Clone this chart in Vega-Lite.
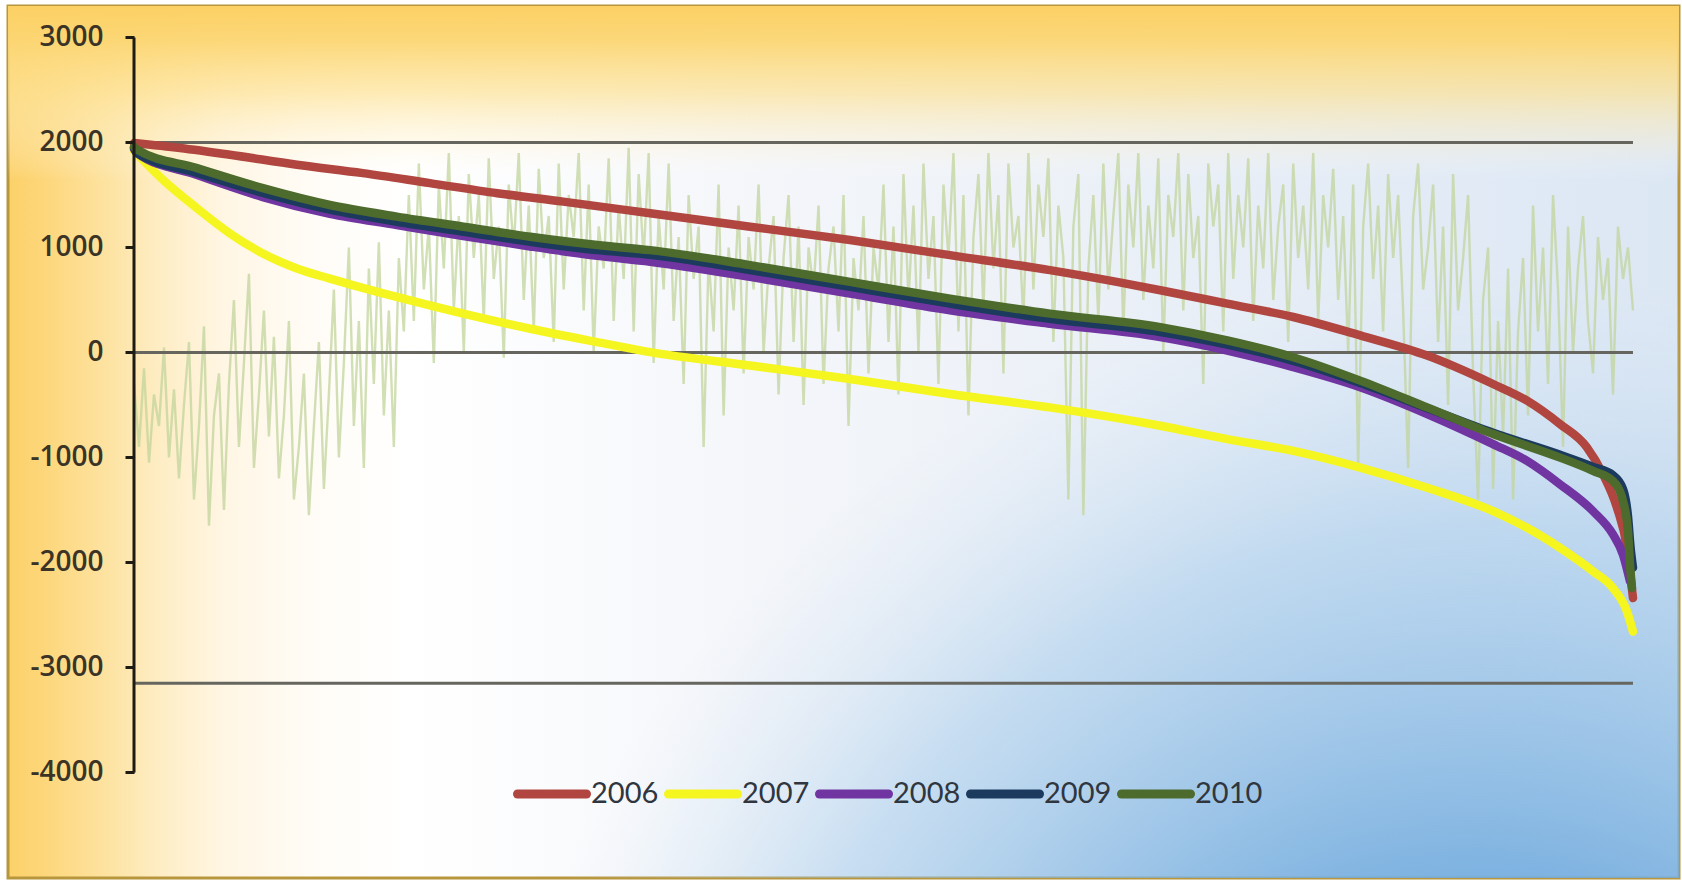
{
  "$schema": "https://vega.github.io/schema/vega-lite/v6.json",
  "width": 1671,
  "height": 872,
  "autosize": {"type": "none"},
  "padding": {"left": 8, "top": 6, "right": 3, "bottom": 3},
  "background": "#ffffff",
  "config": {
    "locale": {"number": {"decimal": ".", "thousands": ",", "grouping": [3], "currency": ["$", ""], "minus": "-"}},
    "view": {
      "stroke": "#b8963c",
      "strokeWidth": 3,
      "fill": {
        "gradient": "linear", "x1": 0, "y1": 0, "x2": 1, "y2": 0,
        "stops": [
          {"offset": 0, "color": "#fcd169"},
          {"offset": 0.02, "color": "#fdd679"},
          {"offset": 0.06, "color": "#fde3a2"},
          {"offset": 0.09, "color": "#feedc4"},
          {"offset": 0.13, "color": "#fff6e4"},
          {"offset": 0.18, "color": "#fffcf6"},
          {"offset": 0.24, "color": "#ffffff"},
          {"offset": 0.45, "color": "#f4f6fa"},
          {"offset": 0.6, "color": "#eef2f8"},
          {"offset": 0.8, "color": "#e4ecf6"},
          {"offset": 1, "color": "#dce7f4"}
        ]
      }
    },
    "axisY": {
      "offset": -126,
      "domain": false,
      "grid": false,
      "tickSize": 9,
      "tickWidth": 3,
      "tickColor": "#1e1a14",
      "labelFont": "Open Sans",
      "labelFontSize": 28,
      "labelFontWeight": 600,
      "labelColor": "#3b3426",
      "labelPadding": 22,
      "labelFlush": false,
      "labelOverlap": false
    },
    "legend": {
      "symbolType": "stroke",
      "symbolStrokeWidth": 9,
      "symbolSize": 4761,
      "labelFont": "Lato",
      "labelFontSize": 29,
      "labelColor": "#2f3640",
      "labelOffset": 0,
      "columnPadding": -9,
      "padding": 0
    }
  },
  "layer": [
    {
      "data": {"values": [{}]},
      "mark": {
        "type": "rect",
        "fill": {
          "gradient": "radial", "x1": 0.88, "y1": 1.0, "r1": 0, "x2": 0.88, "y2": 1.0, "r2": 0.6,
          "stops": [
            {"offset": 0, "color": "rgba(100,165,220,1)"},
            {"offset": 0.4, "color": "rgba(115,172,222,0.9)"},
            {"offset": 0.75, "color": "rgba(150,195,232,0.45)"},
            {"offset": 1, "color": "rgba(200,220,240,0)"}
          ]
        }
      }
    },
    {
      "data": {"values": [{}]},
      "mark": {
        "type": "rect",
        "fill": {
          "gradient": "linear", "x1": 0, "y1": 0, "x2": 0, "y2": 1,
          "stops": [
            {"offset": 0, "color": "rgba(252,208,100,1)"},
            {"offset": 0.04, "color": "rgba(252,214,115,0.95)"},
            {"offset": 0.1, "color": "rgba(253,226,150,0.7)"},
            {"offset": 0.16, "color": "rgba(254,240,200,0.3)"},
            {"offset": 0.2, "color": "rgba(255,255,255,0)"},
            {"offset": 1, "color": "rgba(255,255,255,0)"}
          ]
        }
      }
    },
    {
      "data": {"values": [
        {"x":0,"y":-300},{"x":1,"y":-900},{"x":2,"y":-150},{"x":3,"y":-1050},{"x":4,"y":-400},{"x":5,"y":-700},{"x":6,"y":50},{"x":7,"y":-1000},{"x":8,"y":-350},{"x":9,"y":-1200},
        {"x":10,"y":-500},{"x":11,"y":100},{"x":12,"y":-1400},{"x":13,"y":-700},{"x":14,"y":250},{"x":15,"y":-1650},{"x":16,"y":-600},{"x":17,"y":-200},{"x":18,"y":-1500},{"x":19,"y":-300},
        {"x":20,"y":500},{"x":21,"y":-900},{"x":22,"y":-100},{"x":23,"y":750},{"x":24,"y":-1100},{"x":25,"y":-400},{"x":26,"y":400},{"x":27,"y":-800},{"x":28,"y":150},{"x":29,"y":-1200},
        {"x":30,"y":-600},{"x":31,"y":300},{"x":32,"y":-1400},{"x":33,"y":-900},{"x":34,"y":-200},{"x":35,"y":-1550},{"x":36,"y":-700},{"x":37,"y":100},{"x":38,"y":-1300},{"x":39,"y":-400},
        {"x":40,"y":600},{"x":41,"y":-1000},{"x":42,"y":-100},{"x":43,"y":1000},{"x":44,"y":-700},{"x":45,"y":300},{"x":46,"y":-1100},{"x":47,"y":800},{"x":48,"y":-300},{"x":49,"y":1050},
        {"x":50,"y":-600},{"x":51,"y":400},{"x":52,"y":-900},{"x":53,"y":900},{"x":54,"y":200},{"x":55,"y":1500},{"x":56,"y":300},{"x":57,"y":1800},{"x":58,"y":600},{"x":59,"y":1200},
        {"x":60,"y":-100},{"x":61,"y":1600},{"x":62,"y":800},{"x":63,"y":1900},{"x":64,"y":400},{"x":65,"y":1300},{"x":66,"y":0},{"x":67,"y":1700},{"x":68,"y":900},{"x":69,"y":1500},
        {"x":70,"y":300},{"x":71,"y":1850},{"x":72,"y":700},{"x":73,"y":1200},{"x":74,"y":-50},{"x":75,"y":1600},{"x":76,"y":1000},{"x":77,"y":1900},{"x":78,"y":500},{"x":79,"y":1400},
        {"x":80,"y":200},{"x":81,"y":1750},{"x":82,"y":900},{"x":83,"y":1300},{"x":84,"y":100},{"x":85,"y":1800},{"x":86,"y":600},{"x":87,"y":1500},{"x":88,"y":1100},{"x":89,"y":1900},
        {"x":90,"y":400},{"x":91,"y":1600},{"x":92,"y":0},{"x":93,"y":1200},{"x":94,"y":800},{"x":95,"y":1850},{"x":96,"y":300},{"x":97,"y":1400},{"x":98,"y":700},{"x":99,"y":1950},
        {"x":100,"y":200},{"x":101,"y":1700},{"x":102,"y":900},{"x":103,"y":1900},{"x":104,"y":-100},{"x":105,"y":1300},{"x":106,"y":600},{"x":107,"y":1800},{"x":108,"y":300},{"x":109,"y":1100},
        {"x":110,"y":-300},{"x":111,"y":1500},{"x":112,"y":700},{"x":113,"y":1200},{"x":114,"y":-900},{"x":115,"y":900},{"x":116,"y":200},{"x":117,"y":1600},{"x":118,"y":-600},{"x":119,"y":1000},
        {"x":120,"y":400},{"x":121,"y":1400},{"x":122,"y":-200},{"x":123,"y":1100},{"x":124,"y":600},{"x":125,"y":1600},{"x":126,"y":0},{"x":127,"y":800},{"x":128,"y":1300},{"x":129,"y":-400},
        {"x":130,"y":900},{"x":131,"y":1500},{"x":132,"y":100},{"x":133,"y":1200},{"x":134,"y":-500},{"x":135,"y":1000},{"x":136,"y":600},{"x":137,"y":1400},{"x":138,"y":-300},{"x":139,"y":800},
        {"x":140,"y":1200},{"x":141,"y":200},{"x":142,"y":1500},{"x":143,"y":-700},{"x":144,"y":900},{"x":145,"y":400},{"x":146,"y":1300},{"x":147,"y":-200},{"x":148,"y":1000},{"x":149,"y":600},
        {"x":150,"y":1600},{"x":151,"y":100},{"x":152,"y":1200},{"x":153,"y":-400},{"x":154,"y":1700},{"x":155,"y":500},{"x":156,"y":1400},{"x":157,"y":0},{"x":158,"y":1800},{"x":159,"y":700},
        {"x":160,"y":1300},{"x":161,"y":-300},{"x":162,"y":1600},{"x":163,"y":900},{"x":164,"y":1900},{"x":165,"y":200},{"x":166,"y":1500},{"x":167,"y":-600},{"x":168,"y":1100},{"x":169,"y":1700},
        {"x":170,"y":400},{"x":171,"y":1900},{"x":172,"y":800},{"x":173,"y":1500},{"x":174,"y":-200},{"x":175,"y":1800},{"x":176,"y":1000},{"x":177,"y":1300},{"x":178,"y":300},{"x":179,"y":1900},
        {"x":180,"y":600},{"x":181,"y":1600},{"x":182,"y":1100},{"x":183,"y":1850},{"x":184,"y":100},{"x":185,"y":1400},{"x":186,"y":900},{"x":187,"y":-1400},{"x":188,"y":1200},{"x":189,"y":1700},
        {"x":190,"y":-1550},{"x":191,"y":800},{"x":192,"y":1500},{"x":193,"y":300},{"x":194,"y":1800},{"x":195,"y":600},{"x":196,"y":1300},{"x":197,"y":1900},{"x":198,"y":200},{"x":199,"y":1600},
        {"x":200,"y":1000},{"x":201,"y":1900},{"x":202,"y":500},{"x":203,"y":1400},{"x":204,"y":800},{"x":205,"y":1850},{"x":206,"y":0},{"x":207,"y":1500},{"x":208,"y":1100},{"x":209,"y":1900},
        {"x":210,"y":400},{"x":211,"y":1700},{"x":212,"y":900},{"x":213,"y":1300},{"x":214,"y":-300},{"x":215,"y":1800},{"x":216,"y":1200},{"x":217,"y":1600},{"x":218,"y":200},{"x":219,"y":1900},
        {"x":220,"y":700},{"x":221,"y":1500},{"x":222,"y":1000},{"x":223,"y":1850},{"x":224,"y":300},{"x":225,"y":1400},{"x":226,"y":800},{"x":227,"y":1900},{"x":228,"y":500},{"x":229,"y":1200},
        {"x":230,"y":1600},{"x":231,"y":100},{"x":232,"y":1800},{"x":233,"y":900},{"x":234,"y":1400},{"x":235,"y":600},{"x":236,"y":1900},{"x":237,"y":300},{"x":238,"y":1500},{"x":239,"y":1000},
        {"x":240,"y":1750},{"x":241,"y":500},{"x":242,"y":1300},{"x":243,"y":0},{"x":244,"y":1600},{"x":245,"y":-1100},{"x":246,"y":1200},{"x":247,"y":1800},{"x":248,"y":700},{"x":249,"y":1400},
        {"x":250,"y":200},{"x":251,"y":1700},{"x":252,"y":900},{"x":253,"y":1500},{"x":254,"y":400},{"x":255,"y":-1100},{"x":256,"y":1300},{"x":257,"y":1800},{"x":258,"y":600},{"x":259,"y":1000},
        {"x":260,"y":1600},{"x":261,"y":100},{"x":262,"y":1200},{"x":263,"y":-500},{"x":264,"y":1700},{"x":265,"y":400},{"x":266,"y":900},{"x":267,"y":1500},{"x":268,"y":-200},{"x":269,"y":-1400},
        {"x":270,"y":500},{"x":271,"y":1000},{"x":272,"y":-1300},{"x":273,"y":300},{"x":274,"y":-800},{"x":275,"y":800},{"x":276,"y":-1400},{"x":277,"y":200},{"x":278,"y":900},{"x":279,"y":-600},
        {"x":280,"y":1400},{"x":281,"y":200},{"x":282,"y":1000},{"x":283,"y":-300},{"x":284,"y":1500},{"x":285,"y":600},{"x":286,"y":-900},{"x":287,"y":1200},{"x":288,"y":0},{"x":289,"y":800},
        {"x":290,"y":1300},{"x":291,"y":300},{"x":292,"y":-200},{"x":293,"y":1100},{"x":294,"y":500},{"x":295,"y":900},{"x":296,"y":-400},{"x":297,"y":1200},{"x":298,"y":700},{"x":299,"y":1000},
        {"x":300,"y":400}
      ]},
      "mark": {"type": "line", "stroke": "#c2d49c", "strokeWidth": 2.4, "opacity": 0.75},
      "encoding": {
        "x": {"field": "x", "type": "quantitative", "scale": {"domain": [-25.22, 309.21], "nice": false, "zero": false}, "axis": null},
        "y": {
          "field": "y", "type": "quantitative", "title": null,
          "scale": {"domain": [-5005, 3300], "nice": false, "zero": false},
          "axis": {"values": [3000, 2000, 1000, 0, -1000, -2000, -3000, -4000], "format": "d", "title": null, "zindex": 1}
        }
      }
    },
    {
      "data": {"values": [
        {"x": 0, "x2": 300, "y": 2000},
        {"x": 0, "x2": 300, "y": 0},
        {"x": 0, "x2": 300, "y": -3150}
      ]},
      "mark": {"type": "rule", "stroke": "#66665f", "strokeWidth": 3},
      "encoding": {
        "x": {"field": "x", "type": "quantitative", "axis": null},
        "x2": {"field": "x2"},
        "y": {
          "field": "y", "type": "quantitative", "title": null,
          "axis": {"values": [3000, 2000, 1000, 0, -1000, -2000, -3000, -4000], "format": "d", "title": null, "zindex": 1}
        }
      }
    },
    {
      "data": {"values": [
        {"year":"2006","x":0,"y":1995},{"year":"2006","x":9.2,"y":1947},{"year":"2006","x":19.2,"y":1883},{"year":"2006","x":32.6,"y":1788},{"year":"2006","x":45.8,"y":1708},{"year":"2006","x":59.2,"y":1613},{"year":"2006","x":72.7,"y":1517},{"year":"2006","x":85.9,"y":1437},{"year":"2006","x":103.3,"y":1326},{"year":"2006","x":123.3,"y":1198},{"year":"2006","x":143.3,"y":1071},{"year":"2006","x":163.3,"y":927},{"year":"2006","x":183.3,"y":784},{"year":"2006","x":196.7,"y":672},{"year":"2006","x":205.4,"y":593},{"year":"2006","x":218.8,"y":465},{"year":"2006","x":232,"y":338},{"year":"2006","x":245.4,"y":163},{"year":"2006","x":258.8,"y":-29},{"year":"2006","x":272,"y":-300},{"year":"2006","x":278.8,"y":-459},{"year":"2006","x":285.4,"y":-682},{"year":"2006","x":290.8,"y":-905},{"year":"2006","x":294,"y":-1160},{"year":"2006","x":296.8,"y":-1479},{"year":"2006","x":298.8,"y":-1861},{"year":"2006","x":300,"y":-2339},
        {"year":"2007","x":0,"y":1920},{"year":"2007","x":5.8,"y":1644},{"year":"2007","x":12.6,"y":1374},{"year":"2007","x":19.2,"y":1134},{"year":"2007","x":25.8,"y":943},{"year":"2007","x":32.6,"y":800},{"year":"2007","x":39.2,"y":704},{"year":"2007","x":52.6,"y":529},{"year":"2007","x":65.9,"y":370},{"year":"2007","x":79.3,"y":226},{"year":"2007","x":92.7,"y":99},{"year":"2007","x":103.3,"y":3},{"year":"2007","x":123.3,"y":-124},{"year":"2007","x":143.3,"y":-252},{"year":"2007","x":163.3,"y":-395},{"year":"2007","x":183.3,"y":-523},{"year":"2007","x":205.4,"y":-698},{"year":"2007","x":218.8,"y":-825},{"year":"2007","x":232,"y":-937},{"year":"2007","x":245.4,"y":-1096},{"year":"2007","x":258.8,"y":-1288},{"year":"2007","x":272,"y":-1511},{"year":"2007","x":278.8,"y":-1670},{"year":"2007","x":285.4,"y":-1861},{"year":"2007","x":292,"y":-2084},{"year":"2007","x":296,"y":-2244},{"year":"2007","x":298.8,"y":-2467},{"year":"2007","x":300,"y":-2658},
        {"year":"2008","x":0,"y":1940},{"year":"2008","x":0.6,"y":1900},{"year":"2008","x":12.6,"y":1690},{"year":"2008","x":25.8,"y":1480},{"year":"2008","x":39.2,"y":1320},{"year":"2008","x":52.6,"y":1214},{"year":"2008","x":65.9,"y":1110},{"year":"2008","x":79.3,"y":1010},{"year":"2008","x":92.7,"y":920},{"year":"2008","x":103.3,"y":864},{"year":"2008","x":123.3,"y":720},{"year":"2008","x":143.3,"y":561},{"year":"2008","x":163.3,"y":402},{"year":"2008","x":183.3,"y":274},{"year":"2008","x":205.4,"y":147},{"year":"2008","x":218.8,"y":19},{"year":"2008","x":232,"y":-140},{"year":"2008","x":245.4,"y":-331},{"year":"2008","x":258.8,"y":-586},{"year":"2008","x":272,"y":-873},{"year":"2008","x":278.8,"y":-1033},{"year":"2008","x":285.4,"y":-1255},{"year":"2008","x":292,"y":-1511},{"year":"2008","x":296,"y":-1733},{"year":"2008","x":298,"y":-1925},{"year":"2008","x":299.4,"y":-2180},
        {"year":"2009","x":0,"y":1950},{"year":"2009","x":0.6,"y":1900},{"year":"2009","x":12.6,"y":1710},{"year":"2009","x":25.8,"y":1520},{"year":"2009","x":39.2,"y":1360},{"year":"2009","x":52.6,"y":1245},{"year":"2009","x":65.9,"y":1150},{"year":"2009","x":79.3,"y":1055},{"year":"2009","x":92.7,"y":975},{"year":"2009","x":103.3,"y":930},{"year":"2009","x":123.3,"y":785},{"year":"2009","x":143.3,"y":625},{"year":"2009","x":163.3,"y":465},{"year":"2009","x":183.3,"y":320},{"year":"2009","x":205.4,"y":195},{"year":"2009","x":218.8,"y":75},{"year":"2009","x":232,"y":-80},{"year":"2009","x":245.4,"y":-290},{"year":"2009","x":258.8,"y":-530},{"year":"2009","x":272,"y":-765},{"year":"2009","x":285.4,"y":-975},{"year":"2009","x":292,"y":-1090},{"year":"2009","x":296,"y":-1170},{"year":"2009","x":298,"y":-1300},{"year":"2009","x":299,"y":-1560},{"year":"2009","x":299.5,"y":-1850},{"year":"2009","x":300,"y":-2050},
        {"year":"2010","x":0,"y":1960},{"year":"2010","x":0.6,"y":1931},{"year":"2010","x":12.6,"y":1756},{"year":"2010","x":25.8,"y":1565},{"year":"2010","x":39.2,"y":1405},{"year":"2010","x":52.6,"y":1294},{"year":"2010","x":65.9,"y":1198},{"year":"2010","x":79.3,"y":1102},{"year":"2010","x":92.7,"y":1023},{"year":"2010","x":103.3,"y":975},{"year":"2010","x":123.3,"y":832},{"year":"2010","x":143.3,"y":672},{"year":"2010","x":163.3,"y":513},{"year":"2010","x":183.3,"y":370},{"year":"2010","x":205.4,"y":242},{"year":"2010","x":218.8,"y":115},{"year":"2010","x":232,"y":-45},{"year":"2010","x":245.4,"y":-268},{"year":"2010","x":258.8,"y":-523},{"year":"2010","x":272,"y":-777},{"year":"2010","x":285.4,"y":-1001},{"year":"2010","x":292,"y":-1128},{"year":"2010","x":296,"y":-1224},{"year":"2010","x":298,"y":-1415},{"year":"2010","x":299,"y":-1702},{"year":"2010","x":299.4,"y":-2020},{"year":"2010","x":299.8,"y":-2244}
      ]},
      "mark": {"type": "line", "strokeWidth": 8.5, "strokeCap": "round", "strokeJoin": "round", "interpolate": "monotone"},
      "encoding": {
        "x": {"field": "x", "type": "quantitative", "axis": null},
        "y": {
          "field": "y", "type": "quantitative", "title": null,
          "axis": {"values": [3000, 2000, 1000, 0, -1000, -2000, -3000, -4000], "format": "d", "title": null, "zindex": 1}
        },
        "color": {
          "field": "year", "type": "nominal",
          "scale": {"domain": ["2006", "2007", "2008", "2009", "2010"], "range": ["#b0463f", "#f5f520", "#7035a0", "#1b3a5e", "#4d6b2c"]},
          "legend": {
            "title": null,
            "orient": "none",
            "direction": "horizontal",
            "legendX": 505,
            "legendY": 749,
            "encode": {"symbols": {"update": {"strokeCap": {"value": "round"}}}}
          }
        }
      }
    },
    {
      "data": {"values": [{"x": 0, "y": 3000, "y2": -4000}]},
      "mark": {"type": "rule", "stroke": "#1e1a14", "strokeWidth": 3},
      "encoding": {
        "x": {"field": "x", "type": "quantitative", "axis": null},
        "y": {
          "field": "y", "type": "quantitative", "title": null,
          "axis": {"values": [3000, 2000, 1000, 0, -1000, -2000, -3000, -4000], "format": "d", "title": null, "zindex": 1}
        },
        "y2": {"field": "y2"}
      }
    }
  ]
}
